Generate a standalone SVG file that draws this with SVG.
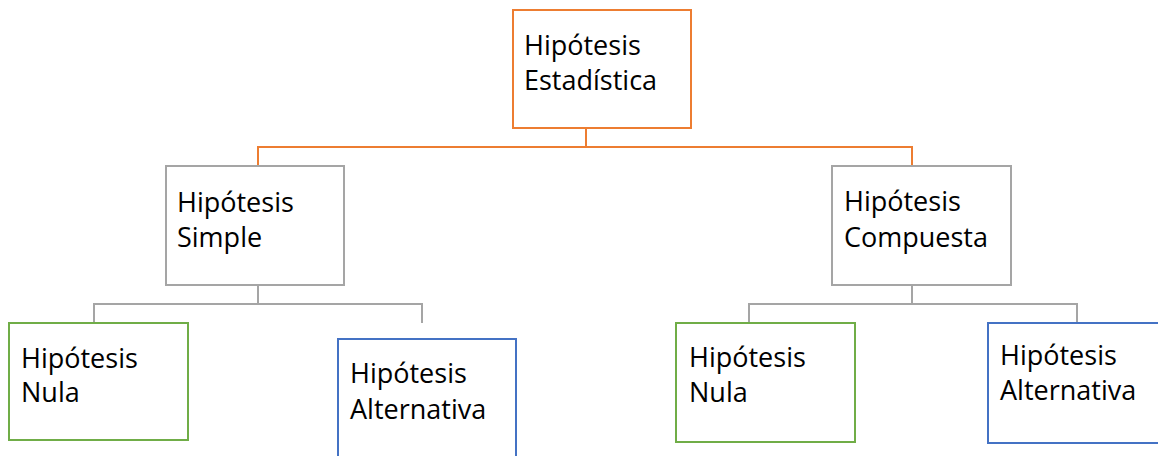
<svg xmlns="http://www.w3.org/2000/svg" width="1158" height="456" viewBox="0 0 1158 456">
<style>
  .box { fill: #FFFFFF; stroke-width: 2; }
  .orange { stroke: #ED7D31; }
  .gray { stroke: #A5A5A5; }
  .green { stroke: #70AD47; }
  .blue { stroke: #4472C4; }
  .conn { fill: none; stroke-width: 2; }
  text { font-family: "Open Sans", "Noto Sans", sans-serif; font-size: 27px; fill: #000000; }
</style>
<rect width="1158" height="456" fill="#FFFFFF"/>
<g id="connectors">
  <path class="conn orange" d="M586 128 V147 M258 166 V147 H912 V166"/>
  <path class="conn gray" d="M258 285 V304 M94 323 V304 H422 V323"/>
  <path class="conn gray" d="M912 285 V304 M749 323 V304 H1077 V323"/>
</g>
<g id="n-estadistica">
  <rect class="box orange" x="513" y="10" width="178" height="118"/>
  <text x="524" y="55">Hipótesis</text>
  <text x="524" y="90">Estadística</text>
</g>
<g id="n-simple">
  <rect class="box gray" x="166" y="166" width="178" height="119"/>
  <text x="177" y="212">Hipótesis</text>
  <text x="177" y="247">Simple</text>
</g>
<g id="n-compuesta">
  <rect class="box gray" x="832" y="166" width="179" height="119"/>
  <text x="844" y="211">Hipótesis</text>
  <text x="844" y="247">Compuesta</text>
</g>
<g id="n-nula-1">
  <rect class="box green" x="9" y="323" width="179" height="117"/>
  <text x="21" y="368">Hipótesis</text>
  <text x="21" y="402">Nula</text>
</g>
<g id="n-alternativa-1">
  <rect class="box blue" x="338" y="339" width="178" height="120"/>
  <text x="350" y="383">Hipótesis</text>
  <text x="350" y="419">Alternativa</text>
</g>
<g id="n-nula-2">
  <rect class="box green" x="676" y="323" width="179" height="119"/>
  <text x="689" y="367">Hipótesis</text>
  <text x="689" y="402">Nula</text>
</g>
<g id="n-alternativa-2">
  <rect class="box blue" x="988" y="323" width="178" height="120"/>
  <text x="1000" y="365">Hipótesis</text>
  <text x="1000" y="400">Alternativa</text>
</g>
</svg>
